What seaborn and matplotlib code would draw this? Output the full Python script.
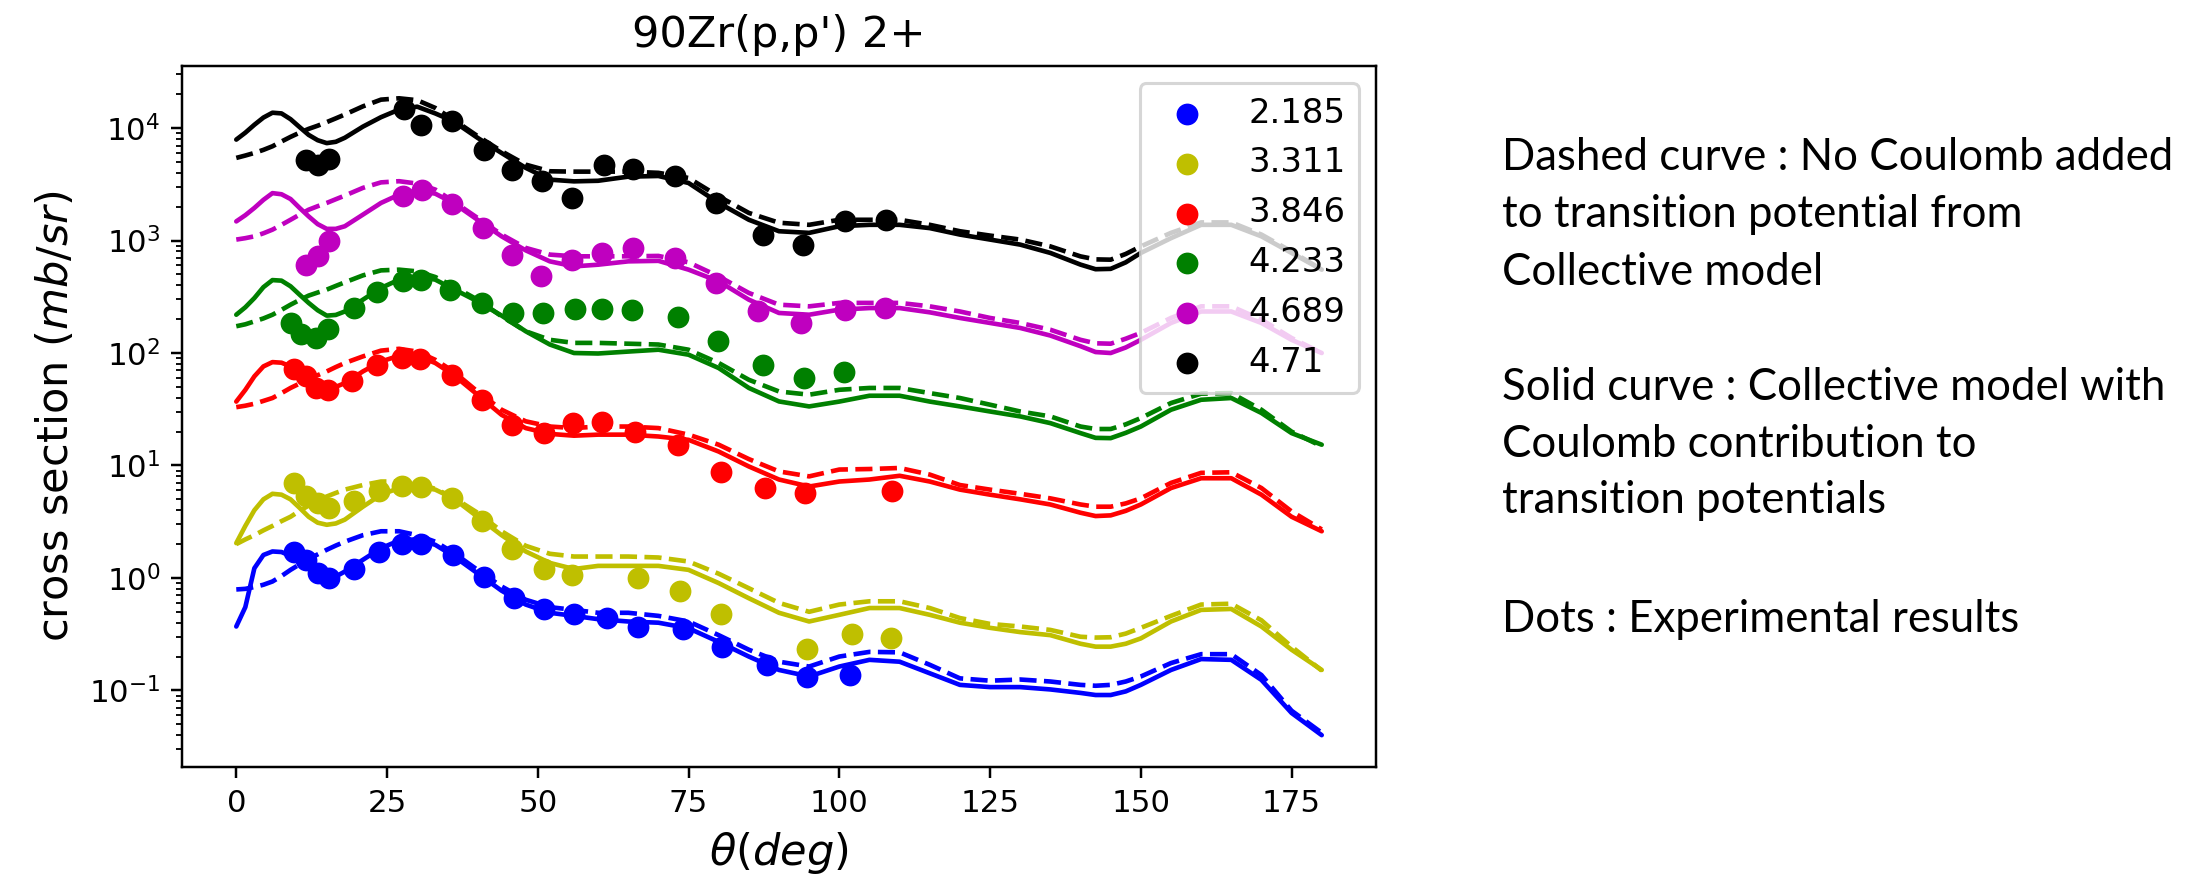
import matplotlib
matplotlib.use("Agg")
import matplotlib.pyplot as plt
import seaborn as sns

# ---------------- data ----------------
theta = [0, 1.5, 3, 4.5, 6, 7.5, 9, 10.5, 12, 13.5, 15, 16.5, 18,
         21, 24, 27, 30, 33, 36,
         40, 44, 48, 52, 56,
         60, 65, 70, 75, 80, 85, 90, 95, 100,
         105, 110, 115, 120, 125, 130, 135, 140,
         142.5, 145, 147.5,
         150, 155, 160, 165, 170, 175, 180]

levels = ["2.185", "3.311", "3.846", "4.233", "4.689", "4.71"]
colors = ["b", "y", "r", "g", "m", "k"]

# solid curves: collective model with Coulomb contribution
solid_2185 = [0.37, 0.55, 1.22, 1.6, 1.72, 1.7, 1.57, 1.4, 1.22, 1.08, 1.0, 1.03, 1.14,
              1.45, 1.84, 2.15, 2.21, 1.97, 1.57,
              1.10, 0.77, 0.58, 0.49, 0.46,
              0.43, 0.41, 0.40, 0.357, 0.27, 0.20, 0.152, 0.133, 0.163,
              0.187, 0.18, 0.142, 0.112, 0.107, 0.107, 0.102, 0.095,
              0.091, 0.091, 0.098,
              0.112, 0.152, 0.19, 0.187, 0.124, 0.063, 0.040]
solid_3311 = [2.04, 2.9, 4.0, 5.0, 5.6, 5.5, 5.0, 4.2, 3.5, 3.1, 2.97, 3.05, 3.3,
              4.3, 5.5, 6.3, 6.5, 6.1, 5.1,
              3.5, 2.4, 1.72, 1.36, 1.2,
              1.28, 1.28, 1.28, 1.18, 0.9, 0.66, 0.49, 0.41, 0.47,
              0.54, 0.54, 0.47, 0.40, 0.36, 0.33, 0.31, 0.26,
              0.245, 0.245, 0.26,
              0.29, 0.41, 0.52, 0.53, 0.37, 0.23, 0.152]
solid_3846 = [37, 47, 62, 76, 83, 82, 76, 66, 57.8, 52, 48.9, 50, 54,
              68.6, 84, 94.6, 94.6, 81.5, 64,
              42.6, 28.2, 21.5, 19.1, 18.4,
              18.8, 18.8, 18.1, 16.9, 13.3, 9.8, 7.5, 6.5, 7.2,
              7.5, 8.1, 7.2, 6.1, 5.5, 5.0, 4.5, 3.8,
              3.55, 3.6, 3.95,
              4.5, 6.3, 7.7, 7.7, 5.5, 3.5, 2.6]
solid_4233 = [219, 255, 308, 385, 445, 440, 392, 330, 279, 240, 215, 218, 234,
              298, 379, 449, 481, 449, 371,
              288, 215, 156, 119, 100,
              99, 103, 107, 96.6, 73.5, 48.9, 37.1, 33.5, 37,
              41.7, 41.7, 37, 33.5, 30.2, 27.3, 23.8, 19.4,
              17.6, 17.5, 19.5,
              22.2, 31.3, 38.4, 39.8, 29.3, 19.4, 15.3]
solid_4689 = [1480, 1680, 1950, 2300, 2640, 2580, 2340, 1950, 1640, 1400, 1270, 1270, 1340,
              1700, 2160, 2560, 2800, 2610, 2160,
              1530, 1090, 818, 653, 589,
              610, 653, 660, 551, 434, 298, 227, 219, 243,
              251, 251, 230, 205, 185, 167, 143, 115,
              102, 100, 112,
              131, 185, 234, 234, 185, 131, 100]
solid_471 = [7900, 9100, 10700, 12400, 13700, 13500, 12000, 10200, 8700, 7800, 7350, 7550, 8200,
             10300, 12500, 14600, 15500, 13500, 11500,
             8200, 6000, 4430, 3480, 3360,
             3400, 3700, 3750, 3250, 2160, 1530, 1210, 1170, 1340,
             1380, 1380, 1290, 1130, 1020, 920, 776, 611,
             556, 560, 640,
             776, 1050, 1380, 1380, 1090, 776, 551]

# dashed curves: no Coulomb added to transition potential
dashed_2185 = [0.79, 0.8, 0.83, 0.87, 0.93, 1.04, 1.18, 1.32, 1.47, 1.62, 1.78, 1.94, 2.1,
               2.4, 2.6, 2.6, 2.4, 2.1, 1.68,
               1.18, 0.84, 0.64, 0.55, 0.52,
               0.49, 0.49, 0.46, 0.41, 0.31, 0.23, 0.18, 0.163, 0.2,
               0.22, 0.218, 0.169, 0.128, 0.122, 0.125, 0.12, 0.112,
               0.11, 0.112, 0.12,
               0.133, 0.175, 0.21, 0.21, 0.137, 0.066, 0.042]
dashed_3311 = [2.0, 2.2, 2.4, 2.65, 2.9, 3.2, 3.5, 3.95, 4.4, 4.85, 5.3, 5.7, 6.1,
               6.7, 7.2, 7.2, 6.9, 6.2, 5.2,
               3.8, 2.6, 1.93, 1.64, 1.55,
               1.55, 1.55, 1.52, 1.4, 1.09, 0.81, 0.6, 0.5, 0.58,
               0.62, 0.62, 0.54, 0.44, 0.39, 0.37, 0.345, 0.3,
               0.295, 0.297, 0.32,
               0.36, 0.46, 0.58, 0.59, 0.42, 0.245, 0.15]
dashed_3846 = [33, 34, 35.4, 37.5, 39.8, 44, 48.9, 53.5, 58.7, 63.5, 68.6, 75, 81.5,
               93.3, 105, 109, 103, 87, 68.6,
               45.5, 31.3, 24.7, 22.2, 21.5,
               22.2, 22.2, 21.5, 18.8, 15.3, 11.4, 8.85, 8.0, 9.2,
               9.3, 9.5, 8.3, 6.7, 6.1, 5.6, 5.1, 4.5,
               4.3, 4.3, 4.6,
               5.1, 7.0, 8.6, 8.7, 6.3, 3.9, 2.7]
dashed_4233 = [173, 180, 191, 203, 219, 242, 269, 296, 324, 345, 366, 395, 425,
               490, 543, 551, 532, 474, 392,
               298, 212, 156, 131, 123,
               123, 121, 119, 107, 81.5, 57.8, 45.5, 42.6, 47.1,
               48.9, 48.9, 44, 39.8, 34.7, 30.2, 27.3, 22.2,
               21.1, 21.1, 23.2,
               26.4, 35.9, 43.5, 44, 31.3, 20, 14.8]
dashed_4689 = [1020, 1050, 1090, 1160, 1250, 1380, 1530, 1700, 1880, 2020, 2160, 2330, 2510,
               2940, 3290, 3370, 3210, 2840, 2230,
               1590, 1130, 860, 750, 724,
               724, 724, 730, 640, 480, 342, 269, 260, 279,
               279, 279, 260, 234, 205, 185, 161, 131,
               122, 121, 134,
               151, 205, 260, 260, 198, 136, 100]
dashed_471 = [5430, 5700, 6010, 6400, 6890, 7600, 8350, 9100, 9840, 10500, 11300, 12200, 13200,
              15600, 17900, 18400, 17700, 15100, 11900,
              8500, 6220, 4730, 4130, 4100,
              4100, 4100, 4000, 3600, 2470, 1760, 1440, 1380, 1530,
              1530, 1530, 1380, 1210, 1107, 1020, 887, 723,
              680, 676, 760,
              887, 1170, 1450, 1450, 1130, 800, 551]

# experimental points
exp_theta_2185 = [9.6, 11.5, 13.5, 15.4, 19.5, 23.6, 27.5, 30.6, 35.9, 41.0, 46.0,
                  51.0, 56.0, 61.4, 66.6, 74.0, 80.6, 88.0, 94.7, 101.7]
exp_xs_2185 = [1.7, 1.45, 1.10, 1.0, 1.2, 1.7, 2.0, 2.02, 1.6, 1.02, 0.67,
               0.53, 0.48, 0.44, 0.37, 0.355, 0.245, 0.168, 0.132, 0.136]
exp_theta_3311 = [9.5, 11.5, 13.5, 15.4, 19.5, 23.6, 27.5, 30.6, 35.8, 40.8, 45.8,
                  51.0, 55.7, 66.6, 73.6, 80.3, 94.7, 102.1, 108.5]
exp_xs_3311 = [7.0, 5.3, 4.6, 4.2, 4.8, 5.9, 6.6, 6.4, 5.1, 3.2, 1.8,
               1.2, 1.06, 1.0, 0.77, 0.48, 0.235, 0.32, 0.29]
exp_theta_3846 = [9.5, 11.5, 13.3, 15.2, 19.2, 23.4, 27.5, 30.5, 35.8, 40.8, 45.8,
                  51.0, 55.9, 60.7, 66.2, 73.2, 80.3, 87.6, 94.3, 108.7]
exp_xs_3846 = [72, 62, 49, 47, 56, 78, 90, 89, 64, 38.5, 23,
               19.4, 24, 24.5, 20, 15.3, 8.8, 6.3, 5.75, 5.9]
exp_theta_4233 = [9.0, 10.8, 13.3, 15.2, 19.6, 23.3, 27.7, 30.7, 35.5, 40.7, 45.9,
                  50.8, 56.2, 60.7, 65.6, 73.2, 79.9, 87.3, 94.1, 100.7]
exp_xs_4233 = [185, 148, 135, 163, 250, 350, 433, 449, 366, 279, 227,
               227, 246, 246, 239, 211, 127, 79, 60, 68]
exp_theta_4689 = [11.5, 13.5, 15.4, 27.6, 30.8, 35.8, 40.9, 45.8, 50.6, 55.7,
                  60.7, 65.8, 72.8, 79.5, 86.5, 93.6, 101.0, 107.5]
exp_xs_4689 = [611, 723, 984, 2470, 2840, 2130, 1280, 750, 481, 665,
               776, 859, 700, 420, 234, 185, 243, 251]
exp_theta_471 = [11.5, 13.5, 15.4, 27.8, 30.6, 35.8, 41.1, 45.8, 50.7, 55.7,
                 61.0, 65.8, 72.8, 79.5, 87.3, 93.9, 101.0, 107.8]
exp_xs_471 = [5250, 4730, 5330, 14800, 10700, 11500, 6350, 4270, 3360, 2390,
              4730, 4340, 3720, 2160, 1130, 918, 1480, 1530]

series = [
    (exp_theta_2185, exp_xs_2185, solid_2185, dashed_2185),
    (exp_theta_3311, exp_xs_3311, solid_3311, dashed_3311),
    (exp_theta_3846, exp_xs_3846, solid_3846, dashed_3846),
    (exp_theta_4233, exp_xs_4233, solid_4233, dashed_4233),
    (exp_theta_4689, exp_xs_4689, solid_4689, dashed_4689),
    (exp_theta_471, exp_xs_471, solid_471, dashed_471),
]

notes = [
    "Dashed curve : No Coulomb added",
    "to transition potential from",
    "Collective model",
    "Solid curve : Collective model with",
    "Coulomb contribution to",
    "transition potentials",
    "Dots : Experimental results",
]

# ---------------- figure ----------------
DPI = 222
W, H = 2187, 879
sns.set_style("ticks", rc={
    "axes.edgecolor": "black", "xtick.color": "black", "ytick.color": "black",
    "text.color": "black", "axes.labelcolor": "black",
})
plt.rcParams["font.family"] = ["DejaVu Sans"]

fig = plt.figure(figsize=(W / DPI, H / DPI), dpi=DPI)
ax = fig.add_axes([182 / W, 1 - 767 / H, (1376 - 182) / W, (767 - 66) / H])

handles = []
for (et, ex, sol, das), col, lab in zip(series, colors, levels):
    sns.lineplot(x=theta, y=sol, color=col, lw=1.5, sort=False, estimator=None, ax=ax)
    sns.lineplot(x=theta, y=das, color=col, lw=1.5, linestyle="--", sort=False,
                 estimator=None, ax=ax)
    sns.scatterplot(x=et, y=ex, color=col, s=50, linewidth=0, ax=ax, zorder=3)
    handles.append(ax.collections[-1])

ax.set_yscale("log")
ax.set_xlim(-9, 189)
ax.set_ylim(10 ** -1.681, 10 ** 4.552)
ax.set_xticks([0, 25, 50, 75, 100, 125, 150, 175])
ax.set_title("90Zr(p,p') 2+", fontsize=14)
ax.set_xlabel(r"$\theta (deg)$", fontsize=14)
ax.set_ylabel(r"cross section $(mb/sr)$", fontsize=14)
ax.legend(handles, levels, loc="upper right", fontsize=11)

baselines = [170, 227, 285, 400, 457, 513, 632]
for txt, yb in zip(notes, baselines):
    fig.text(1502 / W, 1 - yb / H, txt, family=["Lato", "DejaVu Sans"],
             fontsize=14.2, va="baseline", ha="left")

fig.savefig("out.png", dpi=DPI)
